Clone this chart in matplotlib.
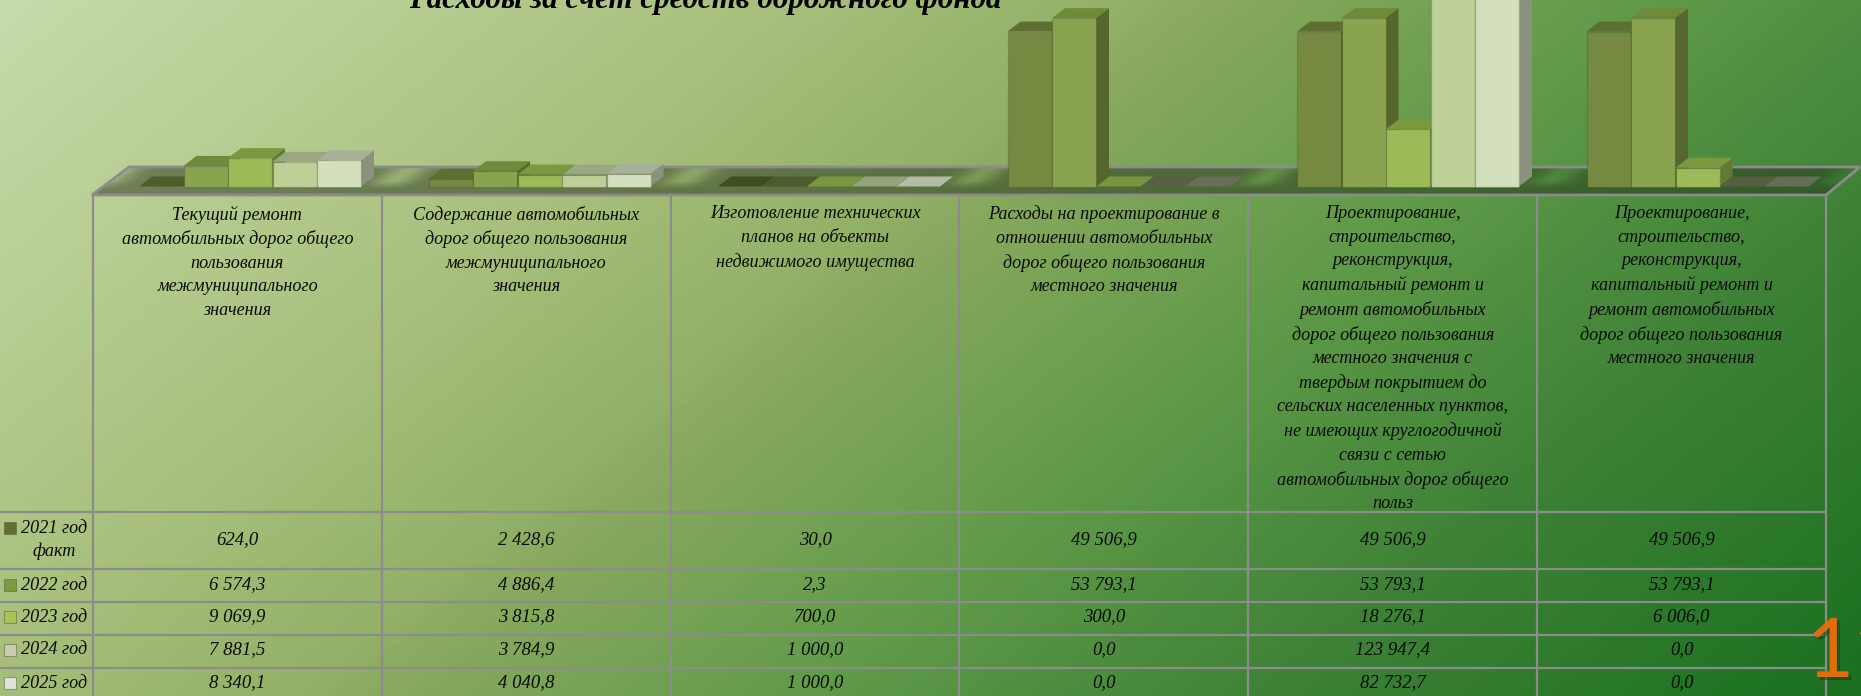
import numpy as np
import matplotlib
matplotlib.use("Agg")
import matplotlib.pyplot as plt
from matplotlib.colors import LinearSegmentedColormap, to_rgb
from matplotlib.patches import Polygon

W, H = 1861, 696
title = "Расходы за счет средств дорожного фонда"
categories = [
    "Текущий ремонт\nавтомобильных дорог общего\nпользования\nмежмуниципального\nзначения",
    "Содержание автомобильных\nдорог общего пользования\nмежмуниципального\nзначения",
    "Изготовление технических\nпланов на объекты\nнедвижимого имущества",
    "Расходы на проектирование в\nотношении автомобильных\nдорог общего пользования\nместного значения",
    "Проектирование,\nстроительство,\nреконструкция,\nкапитальный ремонт и\nремонт автомобильных\nдорог общего пользования\nместного значения с\nтвердым покрытием до\nсельских населенных пунктов,\nне имеющих круглогодичной\nсвязи с сетью\nавтомобильных дорог общего\nпольз",
    "Проектирование,\nстроительство,\nреконструкция,\nкапитальный ремонт и\nремонт автомобильных\nдорог общего пользования\nместного значения",
]
series_names = ["2021 год\nфакт", "2022 год", "2023 год", "2024 год", "2025 год"]
v2021 = [624.0, 2428.6, 30.0, 49506.9, 49506.9, 49506.9]
v2022 = [6574.3, 4886.4, 2.3, 53793.1, 53793.1, 53793.1]
v2023 = [9069.9, 3815.8, 700.0, 300.0, 18276.1, 6006.0]
v2024 = [7881.5, 3784.9, 1000.0, 0.0, 123947.4, 0.0]
v2025 = [8340.1, 4040.8, 1000.0, 0.0, 82732.7, 0.0]
values = [v2021, v2022, v2023, v2024, v2025]
front = ["#758a40", "#89a34e", "#9cba58", "#bcd098", "#d3dfbd"]
top_c = ["#5d7031", "#6f8a3b", "#7b9a40", "#9aa882", "#a9b09a"]
side_c = ["#4f5f2b", "#56662f", "#637a35", "#7d846c", "#8a917e"]
flat_c = ["#4a5c27", "#4a5a28", "#7d9a40", "#9aa882", "#bcc3ad"]
zero_c = ["#3d4a20", "#4a5a28", "#7d9a40", "#586043", "#6b6f5e"]


def fmt(v):
    return f"{v:,.1f}".replace(",", " ").replace(".", ",")


fig = plt.figure(figsize=(W / 100, H / 100), dpi=100)
bg = fig.add_axes([0, 0, 1, 1])
bg.set_xlim(0, W); bg.set_ylim(H, 0); bg.axis("off")
X, Y = np.meshgrid(np.linspace(0, W, 400), np.linspace(0, H, 160))
T = (X + 1.2 * Y) / (W + 1.2 * H)
cmap = LinearSegmentedColormap.from_list("bg", [
    (0.0, "#c6dbaa"), (0.287, "#a8c07c"), (0.415, "#94b168"), (0.455, "#88a95e"),
    (0.616, "#5f9a48"), (0.78, "#3f8237"), (1.0, "#1a7020")])
bg.imshow(T, cmap=cmap, vmin=0, vmax=1, extent=[0, W, H, 0], aspect="auto", zorder=0)

# floor
F_TOP, F_BOT = 167, 195
floor_pts = [(92, F_BOT), (129, F_TOP), (1860, F_TOP), (1826, F_BOT)]
XF, YF = np.meshgrid(np.linspace(0, W, 1400), np.linspace(F_TOP, F_BOT, 40))
phase = ((XF - 105 + 1.3 * (YF - 180)) + 144.75) % 289.5 - 144.75
fade = np.clip((189 - YF) / 8, 0, 1)
alpha = 0.50 - 0.34 * np.exp(-(phase / 20) ** 2) * fade
rgba = np.zeros(XF.shape + (4,))
rgba[..., :3] = to_rgb("#24301a")
rgba[..., 3] = alpha
im = bg.imshow(rgba, extent=[0, W, F_BOT, F_TOP], aspect="auto", zorder=1)
poly = Polygon(floor_pts, closed=True, fc="none", ec="#8c8c8c", lw=2, zorder=2)
bg.add_patch(poly)
im.set_clip_path(poly)
bg.set_xlim(0, W); bg.set_ylim(H, 0)

# bars: x in category units, y in value units
base_px, k = 186.5, 0.00313
g0, gstep, bstep, bw = 139.0, 289.5, 44.5, 44.0
dx_px, dy_px = 13.0, 10.0
ax = fig.add_axes([0, 0, 1, 1], facecolor="none")
ax.set_xlim(-g0 / gstep, (W - g0) / gstep)
ax.set_ylim((base_px - H) / k, base_px / k)
ax.axis("off")
ddx, ddy = dx_px / gstep, dy_px / k
w = bw / gstep
for j in range(len(values)):
    for i, v in enumerate(values[j]):
        x0 = i + j * bstep / gstep
        z = 3 + i * 0.01 + j * 0.001
        if v < 1200:
            col = flat_c[j] if v > 0 else zero_c[j]
            if i == 2 and j < 2:
                col = "#3d4a20" if j == 0 else "#4a5a28"
            ax.add_patch(Polygon([(x0, 0), (x0 + w, 0), (x0 + w + ddx, ddy), (x0 + ddx, ddy)],
                                 fc=col, ec="none", alpha=.92, zorder=z))
            continue
        ax.add_patch(Polygon([(x0 + w, 0), (x0 + w + ddx, ddy), (x0 + w + ddx, v + ddy), (x0 + w, v)],
                             fc=side_c[j], ec="none", zorder=z))
        ax.add_patch(Polygon([(x0, v), (x0 + w, v), (x0 + w + ddx, v + ddy), (x0 + ddx, v + ddy)],
                             fc=top_c[j], ec="none", zorder=z))
        ax.bar(x0, v, width=w, align="edge", color=front[j], edgecolor="#0000001f",
               linewidth=1, zorder=z + 0.0005)

# table
t = fig.add_axes([0, 0, 1, 1], facecolor="none")
t.set_xlim(0, W); t.set_ylim(H, 0); t.axis("off")
col_x = [93 + 288.83 * i for i in range(7)]
row_y = [512, 569, 602, 635, 668]
row_c = [540, 585, 617, 650, 683]
grid = "#8c8c8c"
for x in col_x:
    t.plot([x, x], [F_BOT, H], color=grid, lw=1.6, zorder=5, solid_capstyle="butt")
for y in row_y:
    t.plot([0, col_x[-1]], [y, y], color=grid, lw=1.6, zorder=5, solid_capstyle="butt")
font = dict(family="Liberation Serif", style="italic", color="#0a0a0a")
for i, c in enumerate(categories):
    cx = (col_x[i] + col_x[i + 1]) / 2
    t.text(cx, 205.5, c, ha="center", va="top", fontsize=13.1, linespacing=1.49, **font)
    for j in range(5):
        t.text(cx, row_c[j], fmt(values[j][i]), ha="center", va="center", fontsize=13.5, **font)
key_y = [528, 585, 617, 650, 683]
keys = ["#5f7030", "#7d9a40", "#a9c455", "#c8cdb0", "#e0e3dc"]
for j, name in enumerate(series_names):
    t.scatter([10], [key_y[j]], marker="s", s=66, c=keys[j], edgecolors="#55604080", linewidths=.8, zorder=6)
    yy = 540 if j == 0 else row_c[j]
    t.text(54, yy, name, ha="center", va="center", fontsize=13.1, linespacing=1.45, **font)

t.text(705, 8, title, ha="center", va="baseline", fontsize=22.3, fontweight="bold",
       family="Liberation Serif", style="italic", color="black", zorder=7)
for off, col, a, z in [(3, "#123f12", .5, 6), (0, "#e36c0a", 1, 7)]:
    t.text(1806 + off, 677 + off, "11", ha="left", va="baseline", fontsize=58.5,
           color=col, family="Lato", fontweight="bold" if False else "normal", alpha=a, zorder=z)
fig.savefig("out.png", dpi=100)
